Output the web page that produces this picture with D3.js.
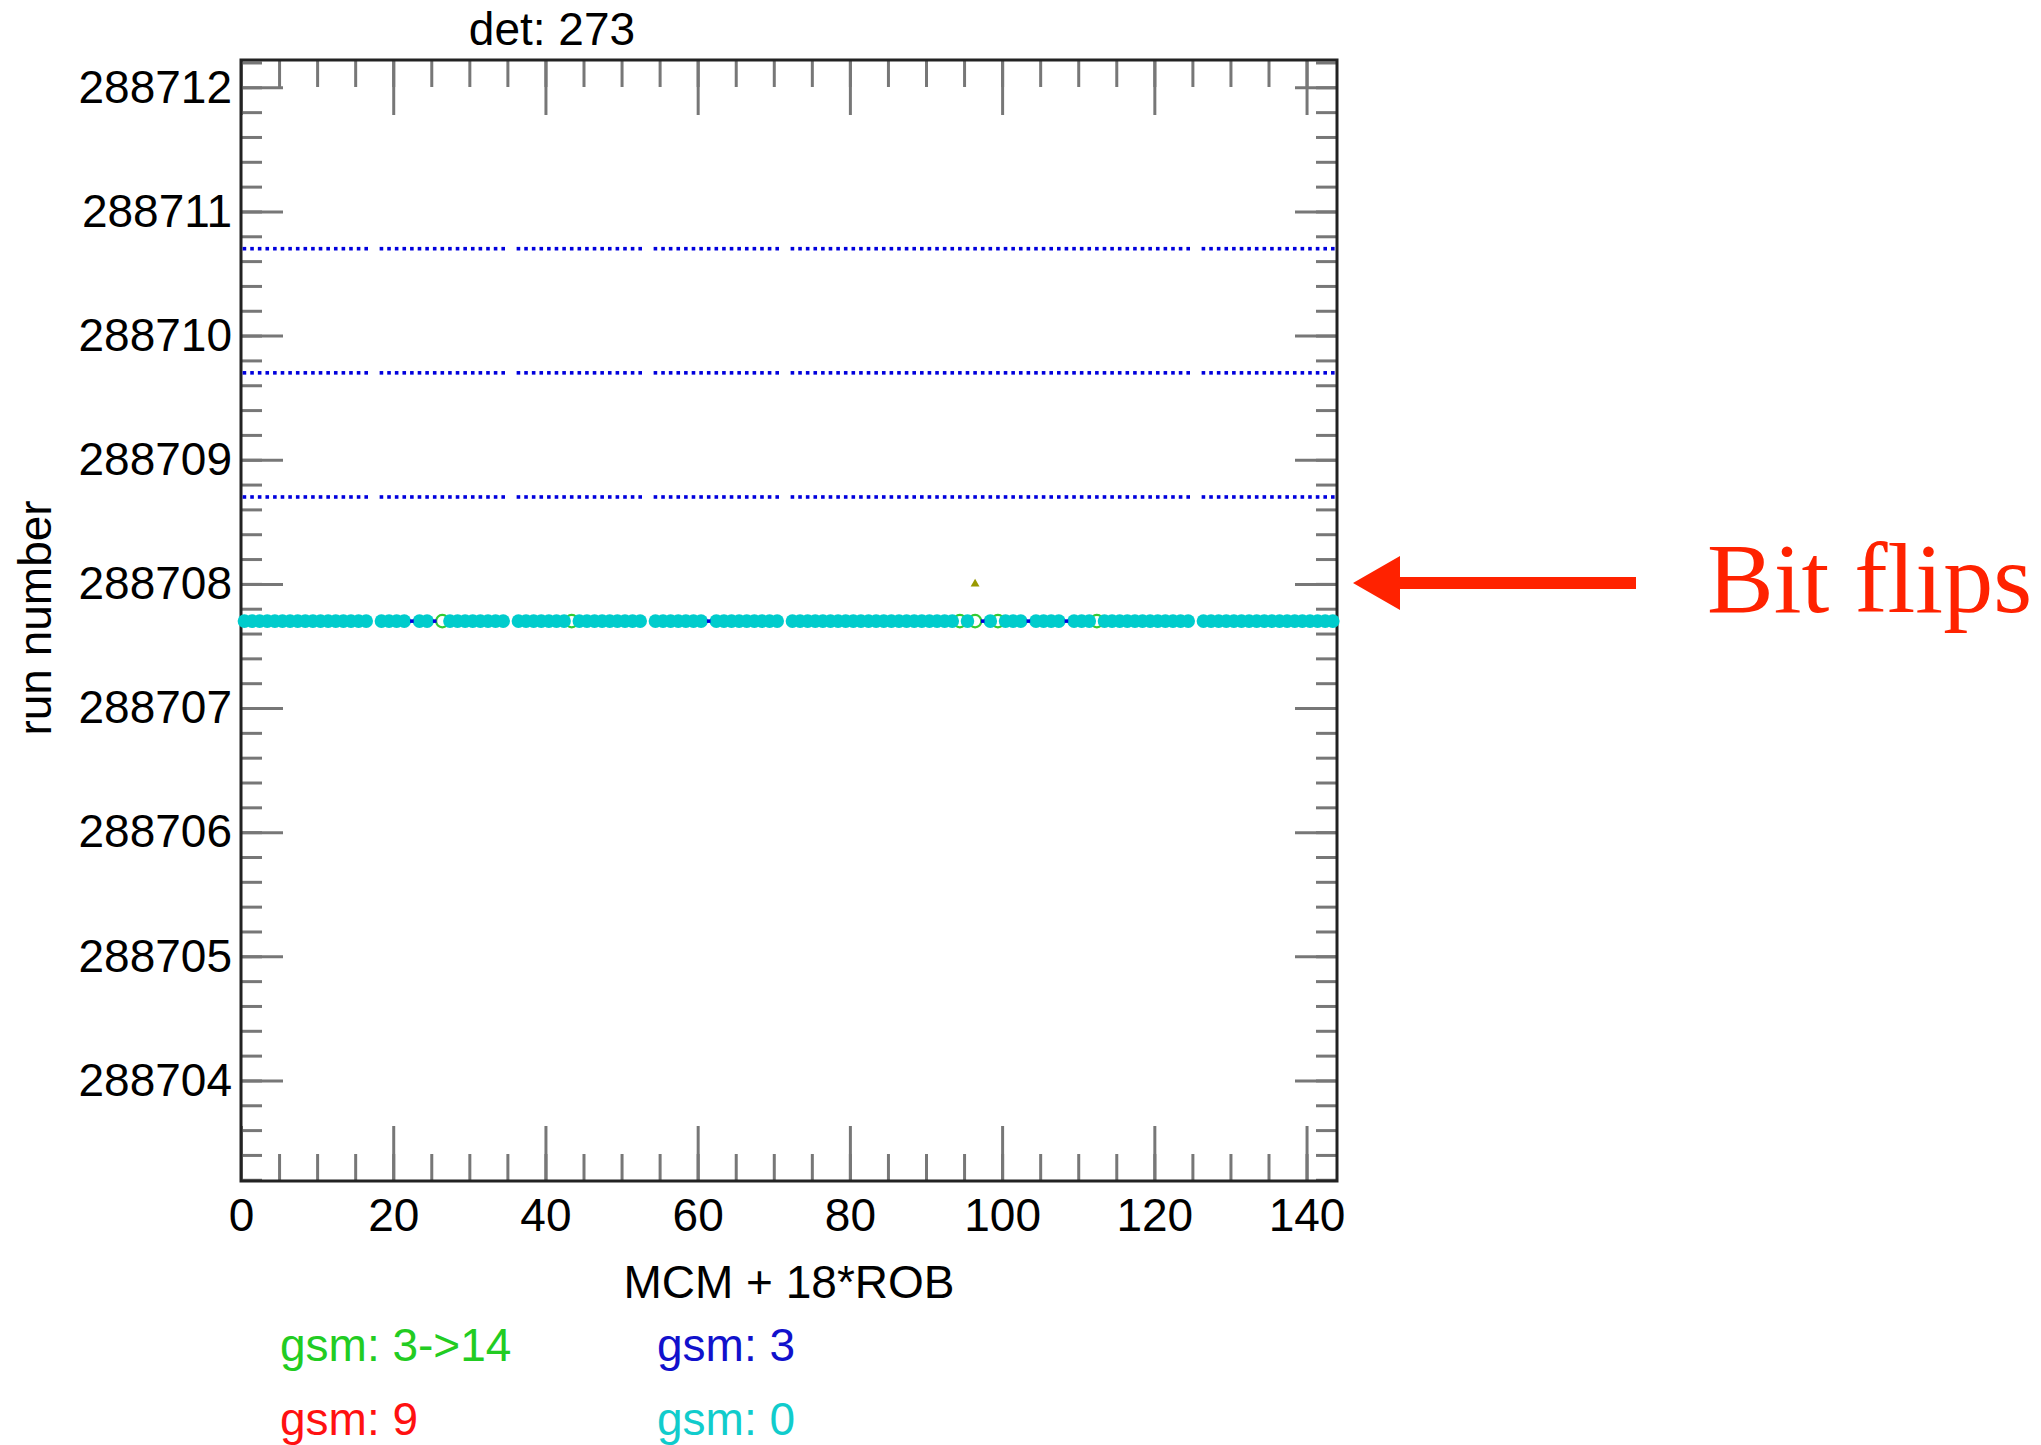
<!DOCTYPE html>
<html>
<head>
<meta charset="utf-8">
<script src="https://cdn.jsdelivr.net/npm/d3@7"></script>
<style>
  body { margin: 0; background: #fff; }
  text { font-family: "Liberation Sans", Arial, sans-serif; }
</style>
</head>
<body>
<div id="chart"></div>
<script>
// x categories: MCM + 18*ROB, 0..143
const mcmIndex = d3.range(144);
const missingMcm = [17, 35, 53, 71, 125];

// runs where every MCM reads gsm 3
const gsm3Runs = [288710.7, 288709.7, 288708.7];

// run with mixed states
const mixedRun = 288707.7;
const gsm3Mcm = [22, 25, 61, 97, 103, 108];
const gsm3to14Mcm = [26, 43, 94, 96, 99, 112];

// single marker above the mixed row
const flipMcm = [96];
const flipRun = [288708.0];

const xTicks = [0, 20, 40, 60, 80, 100, 120, 140];
const yTicks = [288704, 288705, 288706, 288707, 288708, 288709, 288710, 288711, 288712];

const legendLabels = ["gsm: 3->14", "gsm: 3", "gsm: 9", "gsm: 0"];
const legendColors = ["#22cc22", "#1111cc", "#ff1111", "#11cccc"];

let w = 2041, h = 1445;
let padL = 241, padR = 1337, padT = 60, padB = 1181;

const svg = d3.select("#chart").append("svg")
  .attr("width", w)
  .attr("height", h)
  .style("background", "#fff");

let xScale = d3.scaleLinear().domain([0, 144]).range([padL, padR]);
let yScale = d3.scaleLinear().domain([288703.19, 288712.22]).range([padB, padT]);

const xMinor = d3.range(0, 145, 5);
const yMinor = d3.range(0, 46).map(i => Math.round((288703.2 + i * 0.2) * 10) / 10);

function styleAxis(g) {
  g.select(".domain").remove();
  g.selectAll(".tick line").attr("stroke", "#777").attr("stroke-width", 3);
  g.selectAll(".tick text").attr("fill", "#000").style("font-size", "46px");
}

// minor ticks
svg.append("g").attr("transform", `translate(0,${padB})`)
  .call(d3.axisBottom(xScale).tickValues(xMinor).tickSize(-27).tickFormat(""))
  .call(styleAxis);
svg.append("g").attr("transform", `translate(0,${padT})`)
  .call(d3.axisTop(xScale).tickValues(xMinor).tickSize(-27).tickFormat(""))
  .call(styleAxis);
svg.append("g").attr("transform", `translate(${padL},0)`)
  .call(d3.axisLeft(yScale).tickValues(yMinor).tickSize(-21).tickFormat(""))
  .call(styleAxis);
svg.append("g").attr("transform", `translate(${padR},0)`)
  .call(d3.axisRight(yScale).tickValues(yMinor).tickSize(-21).tickFormat(""))
  .call(styleAxis);

// major ticks
svg.append("g").attr("transform", `translate(0,${padB})`)
  .call(d3.axisBottom(xScale).tickValues(xTicks).tickSize(-55).tickPadding(17).tickFormat(d3.format("d")))
  .call(styleAxis);
svg.append("g").attr("transform", `translate(0,${padT})`)
  .call(d3.axisTop(xScale).tickValues(xTicks).tickSize(-55).tickFormat(""))
  .call(styleAxis);
svg.append("g").attr("transform", `translate(${padL},0)`)
  .call(d3.axisLeft(yScale).tickValues(yTicks).tickSize(-42).tickPadding(9).tickFormat(d3.format("d")))
  .call(styleAxis);
svg.append("g").attr("transform", `translate(${padR},0)`)
  .call(d3.axisRight(yScale).tickValues(yTicks).tickSize(-42).tickFormat(""))
  .call(styleAxis);

// frame
svg.append("rect")
  .attr("x", padL).attr("y", padT)
  .attr("width", padR - padL).attr("height", padB - padT)
  .attr("fill", "none")
  .attr("stroke", "#222")
  .attr("stroke-width", 3);

const present = mcmIndex.filter(m => !missingMcm.includes(m));
const gsm0Mcm = present.filter(m => !gsm3Mcm.includes(m) && !gsm3to14Mcm.includes(m));

const plot = svg.append("g");

// gsm 3 rows (small blue dots)
gsm3Runs.forEach(run => {
  plot.append("g").selectAll("rect")
    .data(present)
    .enter()
    .append("rect")
    .attr("x", d => xScale(d + 0.45) - 1.8)
    .attr("y", yScale(run) - 1.8)
    .attr("width", 3.6)
    .attr("height", 3.6)
    .attr("fill", "#0000dd");
});

// gsm 3->14 open circles, drawn under the cyan ones
plot.append("g").selectAll("circle")
  .data(gsm3to14Mcm)
  .enter()
  .append("circle")
  .attr("cx", d => xScale(d + 0.45))
  .attr("cy", yScale(mixedRun))
  .attr("r", 6.2)
  .attr("fill", "#fff")
  .attr("stroke", "#33cc33")
  .attr("stroke-width", 2.2);

// gsm 0 filled circles
plot.append("g").selectAll("circle")
  .data(gsm0Mcm)
  .enter()
  .append("circle")
  .attr("cx", d => xScale(d + 0.45))
  .attr("cy", yScale(mixedRun))
  .attr("r", 6.8)
  .attr("fill", "#00cccc");

// gsm 3 dots in the mixed row
plot.append("g").selectAll("rect")
  .data(gsm3Mcm)
  .enter()
  .append("rect")
  .attr("x", d => xScale(d + 0.45) - 1.8)
  .attr("y", yScale(mixedRun) - 1.8)
  .attr("width", 3.6)
  .attr("height", 3.6)
  .attr("fill", "#0000dd");

// olive triangle
plot.append("g").selectAll("path")
  .data(flipMcm)
  .enter()
  .append("path")
  .attr("d", d3.symbol().type(d3.symbolTriangle).size(34))
  .attr("transform", (d, i) => `translate(${xScale(d + 0.45)},${yScale(flipRun[i])})`)
  .attr("fill", "#999900");

// titles
svg.append("text")
  .attr("x", 552).attr("y", 45)
  .attr("text-anchor", "middle")
  .style("font-size", "46px")
  .text("det: 273");

svg.append("text")
  .attr("x", 789).attr("y", 1298)
  .attr("text-anchor", "middle")
  .style("font-size", "46px")
  .text("MCM + 18*ROB");

svg.append("text")
  .attr("transform", "translate(51,618) rotate(-90)")
  .attr("text-anchor", "middle")
  .style("font-size", "46px")
  .text("run number");

// legend
const legX = [280, 657, 280, 657];
const legY = [1361, 1361, 1435, 1435];
svg.append("g").selectAll("text")
  .data(legendLabels)
  .enter()
  .append("text")
  .attr("x", (d, i) => legX[i])
  .attr("y", (d, i) => legY[i])
  .attr("fill", (d, i) => legendColors[i])
  .style("font-size", "46px")
  .text(d => d);

// annotation arrow
const arrowY = 583;
svg.append("path")
  .attr("d", `M1353,${arrowY} L1400,${arrowY - 27} L1400,${arrowY - 6} L1636,${arrowY - 6} L1636,${arrowY + 6} L1400,${arrowY + 6} L1400,${arrowY + 27} Z`)
  .attr("fill", "#ff2200");

svg.append("text")
  .attr("x", 1707).attr("y", 612)
  .attr("fill", "#ff2200")
  .style("font-family", "'Liberation Serif', 'DejaVu Serif', serif")
  .style("font-size", "100px")
  .text("Bit flips");
</script>
</body>
</html>
